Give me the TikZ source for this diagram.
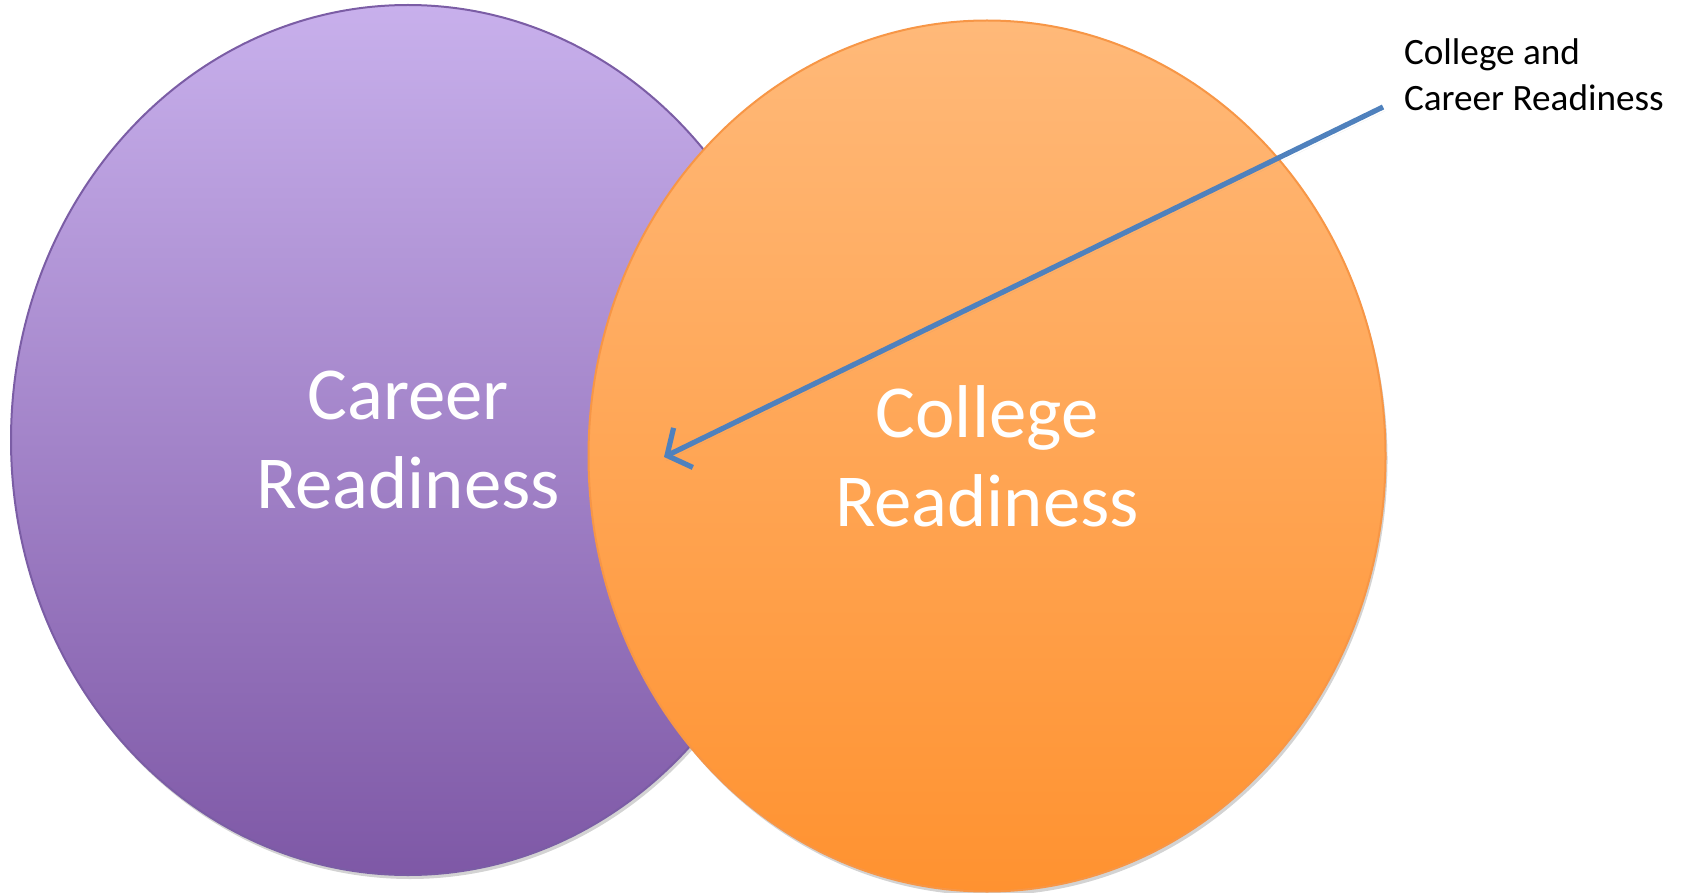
\documentclass[tikz,border=0pt]{standalone}
\usepackage{fontspec}
\setmainfont{Carlito}
\usetikzlibrary{shapes.geometric,arrows.meta,shadows}
\definecolor{purpletop}{HTML}{C8B0EC}
\definecolor{purplebot}{HTML}{7E58A6}
\definecolor{purpleline}{HTML}{7B5DA5}
\definecolor{orangetop}{HTML}{FFB979}
\definecolor{orangebot}{HTML}{FF9230}
\definecolor{orangeline}{HTML}{F79646}
\definecolor{arrowblue}{HTML}{4F81BD}
\begin{document}
\begin{tikzpicture}
  [x=0.5pt,y=-0.5pt,
   every node/.style={ellipse,outer sep=0pt,inner sep=0pt},
   bubble/.style={drop shadow={shadow xshift=1pt,shadow yshift=-2pt,opacity=0.35},
     align=center,text=white,font=\fontsize{37.4}{44.6}\selectfont},
   note/.style={rectangle,align=left,anchor=north west,font=\fontsize{18.6}{23}\selectfont}]
  \useasboundingbox (0,0) rectangle (1685,893);
  \node (career)[bubble,draw=purpleline,line width=1pt,top color=purpletop,bottom color=purplebot,
    minimum width=397pt,minimum height=435pt] at (408,440) {Career\\Readiness};
  \node (college)[bubble,draw=orangeline,line width=1pt,top color=orangetop,bottom color=orangebot,
    minimum width=398.5pt,minimum height=435.5pt] at (987,456) {College\\Readiness};
  \node (both)[note] at (1404,39) {College and\\Career Readiness};

  \coordinate (start) at (1383,107);
  \coordinate (tip) at (664,457);
  \draw[arrowblue,line width=2.6pt,-{Straight Barb[length=9pt,width=22pt]},
    drop shadow={shadow xshift=1pt,shadow yshift=-2pt,opacity=0.3}] (start) -- (tip);
\end{tikzpicture}
\end{document}
